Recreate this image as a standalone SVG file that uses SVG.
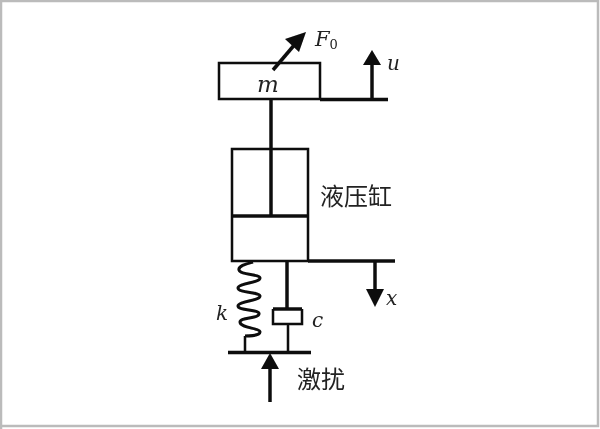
<svg xmlns="http://www.w3.org/2000/svg" width="600" height="429" viewBox="0 0 600 429">
<style>
.t{fill:none;stroke:#111;stroke-width:2.500}
.k{fill:none;stroke:#0a0a0a;stroke-width:3.500}
.h{fill:#0a0a0a;stroke:none}
.v{font-family:"DejaVu Serif",serif;font-style:italic;fill:#222;font-size:20px}
.c{font-family:"Noto Sans CJK SC",sans-serif;fill:#222;font-size:24px}
</style>
<defs><filter id="b" x="-5%" y="-5%" width="110%" height="110%"><feGaussianBlur stdDeviation="0.5"/></filter></defs>
<rect width="600" height="429" fill="#fff"/>
<path d="M1 429V1H598V426H0" fill="none" stroke="#bbb" stroke-width="2.500"/>
<g filter="url(#b)">
<g id="connectors">
<path class="k" d="M320 99.500H388"/>
<path class="k" d="M372 99V60"/>
<polygon class="h" points="372,50 381,65 363,65"/>
<path class="k" d="M273 70L296 43"/>
<polygon class="h" points="306,32 299,52 285,39"/>
<path class="k" d="M271 99V215"/>
<path class="k" d="M308 261H395"/>
<path class="k" d="M375 261V295"/>
<polygon class="h" points="375,307 366,289 384,289"/>
<path class="k" d="M287 262V309"/>
<path class="t" d="M288 324V352M245 336V352"/>
<path class="k" d="M270 402V365"/>
<polygon class="h" points="270,353 279,369 261,369"/>
</g>
<g id="mass-m"><rect class="t" x="219" y="63" width="101" height="36"/><text class="v" x="257" y="92" style="font-size:23px">m</text></g>
<g id="force-label"><text class="v" x="315" y="46" style="font-size:21px">F<tspan dy="3" style="font-size:13px;font-style:normal">0</tspan></text></g>
<g id="u-label"><text class="v" x="387" y="70">u</text></g>
<g id="cylinder"><rect class="t" x="232" y="149" width="76" height="112"/><path class="k" d="M231 216H309"/><text class="c" x="320" y="205">液压缸</text></g>
<g id="spring"><path fill="none" stroke="#0a0a0a" stroke-width="3" stroke-linejoin="round" d="M253 262C246 264 238 266 239 270C240 275 260 274 260 278C260 283 238 283 238 288C238 293 260 292 260 296C260 301 238 301 238 306C238 311 260 309 259 314C258 319 240 317 240 322C240 328 260 328 260 332C260 336 246 336 245 336"/><text class="v" x="216" y="320">k</text></g>
<g id="damper"><path class="t" d="M273 309V324H302V309"/><path class="k" d="M273 309H302"/><text class="v" x="312" y="327">c</text></g>
<g id="x-label"><text class="v" x="386" y="305">x</text></g>
<g id="base"><path class="k" d="M228 352.500H311"/><text class="c" x="297" y="388">激扰</text></g>
</g>
</svg>
